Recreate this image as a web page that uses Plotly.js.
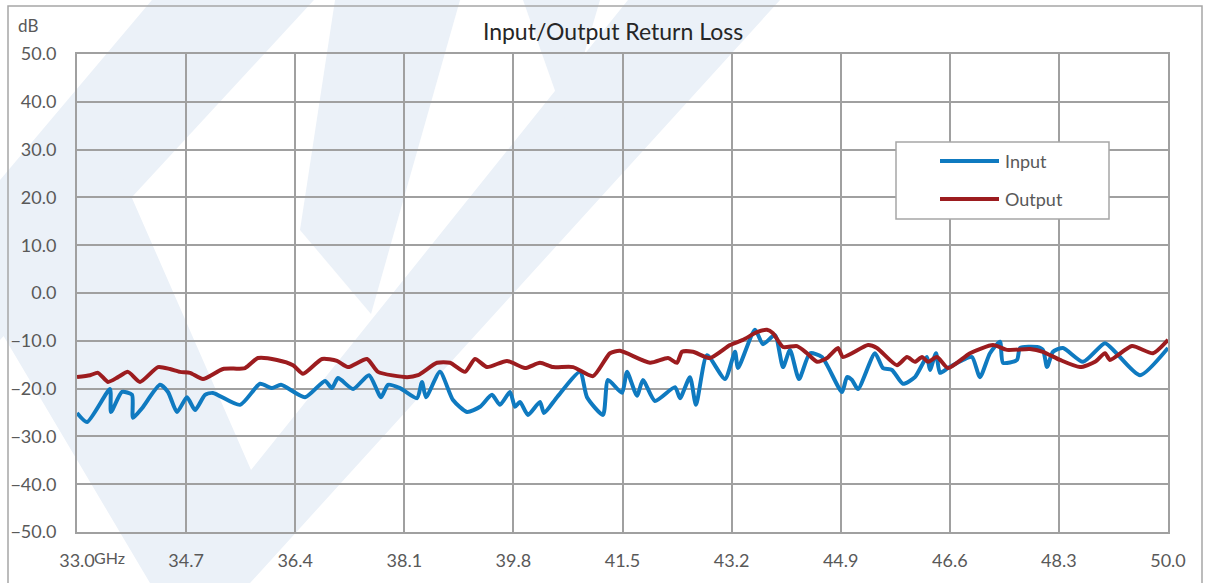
<!DOCTYPE html>
<html>
<head>
<meta charset="utf-8">
<script src="https://cdn.plot.ly/plotly-3.0.1.min.js"></script>
<style>html,body{margin:0;padding:0;background:#fff;}#chart{width:1211px;height:583px;}</style>
</head>
<body>
<div id="chart"></div>
<script>
// ---- data ----
const freqTickVals = [33.0, 34.7, 36.4, 38.1, 39.8, 41.5, 43.2, 44.9, 46.6, 48.3, 50.0];
const freqTickText = ["33.0", "34.7", "36.4", "38.1", "39.8", "41.5", "43.2", "44.9", "46.6", "48.3", "50.0"];

const inputFreq = [33.000, 33.156, 33.514, 33.530, 33.701, 33.857, 33.873, 34.013, 34.293, 34.418,
  34.558, 34.714, 34.839, 34.995, 35.119, 35.540, 35.852, 36.039, 36.179, 36.553,
  36.864, 36.973, 37.067, 37.301, 37.550, 37.737, 37.846, 38.033, 38.298, 38.376,
  38.438, 38.656, 38.859, 39.077, 39.280, 39.466, 39.591, 39.747, 39.825, 39.903,
  40.027, 40.214, 40.277, 40.479, 40.838, 40.947, 41.196, 41.274, 41.492, 41.570,
  41.726, 41.819, 42.006, 42.318, 42.396, 42.551, 42.645, 42.816, 43.097, 43.253,
  43.300, 43.565, 43.689, 43.876, 44.001, 44.110, 44.250, 44.421, 44.608, 44.920,
  44.998, 45.076, 45.169, 45.434, 45.559, 45.699, 45.870, 46.057, 46.244, 46.291,
  46.385, 46.447, 46.572, 46.806, 46.946, 47.070, 47.226, 47.382, 47.429, 47.647,
  47.694, 47.959, 48.052, 48.115, 48.208, 48.364, 48.676, 49.018, 49.174, 49.564, 50.000];
const inputDb = [-25.1, -27.0, -20.1, -24.9, -20.7, -21.3, -26.1, -24.1, -19.2, -20.7,
  -24.9, -21.8, -24.5, -21.3, -20.9, -23.4, -19.0, -19.9, -19.2, -21.8,
  -18.4, -19.9, -17.8, -20.1, -17.2, -21.8, -19.2, -19.9, -22.0, -18.6,
  -21.8, -16.5, -22.4, -24.9, -23.8, -21.3, -23.4, -20.7, -23.8, -22.8,
  -25.5, -22.8, -25.1, -21.8, -16.5, -21.8, -25.5, -18.2, -20.9, -16.5,
  -21.5, -18.2, -22.6, -19.7, -22.0, -17.6, -23.4, -13.0, -18.0, -12.3,
  -15.7, -7.7, -10.7, -8.8, -15.5, -11.9, -18.0, -12.6, -13.4, -20.7,
  -17.6, -18.2, -20.1, -12.6, -15.7, -16.1, -19.0, -17.6, -13.4, -16.1,
  -12.6, -16.7, -15.7, -14.0, -13.4, -17.6, -12.6, -10.2, -14.6, -14.0,
  -11.5, -11.3, -11.9, -15.5, -12.3, -11.5, -14.4, -10.5, -12.3, -17.2, -11.5];

const outputFreq = [33.000, 33.203, 33.327, 33.483, 33.639, 33.795, 33.982, 34.262, 34.449, 34.605,
  34.761, 34.963, 35.275, 35.618, 35.820, 36.116, 36.366, 36.522, 36.818, 37.051,
  37.223, 37.519, 37.690, 38.142, 38.313, 38.610, 38.812, 39.046, 39.202, 39.389,
  39.700, 39.981, 40.214, 40.417, 40.729, 41.040, 41.305, 41.461, 41.928, 42.209,
  42.349, 42.427, 42.598, 42.863, 43.175, 43.377, 43.596, 43.752, 43.845, 44.001,
  44.219, 44.375, 44.531, 44.687, 44.858, 44.936, 45.326, 45.465, 45.777, 45.933,
  46.057, 46.167, 46.260, 46.400, 46.572, 46.915, 47.273, 47.491, 47.850, 48.052,
  48.317, 48.629, 48.863, 49.018, 49.096, 49.439, 49.766, 50.000];
const outputDb = [-17.6, -17.2, -16.7, -18.6, -17.6, -16.5, -18.6, -15.5, -15.9, -16.5,
  -16.7, -18.0, -15.9, -15.7, -13.6, -14.0, -15.1, -16.9, -13.8, -14.2,
  -15.5, -13.8, -16.5, -17.6, -17.2, -14.6, -14.6, -16.5, -13.8, -15.5,
  -14.2, -15.7, -14.6, -15.5, -15.5, -17.4, -12.6, -12.1, -14.6, -13.6,
  -14.6, -12.3, -12.3, -13.6, -10.9, -9.8, -8.2, -7.7, -8.4, -11.3,
  -11.1, -12.6, -14.4, -13.6, -11.5, -13.4, -10.9, -11.5, -15.1, -13.4,
  -14.4, -13.4, -14.4, -13.4, -15.7, -12.6, -10.9, -11.9, -11.7, -12.3,
  -14.0, -15.5, -14.4, -12.6, -14.0, -11.1, -12.6, -9.8];

const seriesNames = ["Input", "Output"];
const seriesColors = ["#0F7AC0", "#9C1C1F"];

// ---- layout helpers (pixel -> paper, for decoration only) ----
const PL = 77, PR = 1168, PT = 54, PB = 532;
const px = v => (v - PL) / (PR - PL);
const py = v => (PB - v) / (PB - PT);
function poly(pts, color) {
  const d = pts.map((p, i) => (i ? 'L' : 'M') + px(p[0]).toFixed(4) + ',' + py(p[1]).toFixed(4)).join(' ') + ' Z';
  return {type: 'path', xref: 'paper', yref: 'paper', path: d, fillcolor: color, line: {width: 0}, layer: 'below'};
}
const wm = '#EBF1F8';
const shapes = [
  // faint background watermark
  poly([[152, 0], [314, 0], [0, 340], [0, 180]], wm),
  poly([[0, 200], [100, 125], [251, 470], [628, 0], [780, 0], [250, 583], [150, 583], [0, 330]], wm),
  poly([[335, 0], [460, 0], [371, 314], [300, 230]], wm),
  poly([[523, 0], [600, 0], [565, 119]], wm),
  // outer chart frame
  {type: 'rect', xref: 'paper', yref: 'paper', x0: px(8), x1: px(1202), y0: py(6), y1: py(600),
   line: {color: '#A6A6A6', width: 1.5}, fillcolor: 'rgba(0,0,0,0)', layer: 'above'},
  // legend box
  {type: 'rect', xref: 'paper', yref: 'paper', x0: px(896), x1: px(1109), y0: py(142), y1: py(219),
   line: {color: '#A6A6A6', width: 1.5}, fillcolor: '#FFFFFF', layer: 'above'},
  {type: 'line', xref: 'paper', yref: 'paper', x0: px(940), x1: px(999), y0: py(161), y1: py(161),
   line: {color: seriesColors[0], width: 4}, layer: 'above'},
  {type: 'line', xref: 'paper', yref: 'paper', x0: px(940), x1: px(999), y0: py(199), y1: py(199),
   line: {color: seriesColors[1], width: 4}, layer: 'above'}
];

const textColor = '#595959';
const fontFam = 'Lato, "Open Sans", sans-serif';

const annotations = [
  {xref: 'paper', yref: 'paper', x: px(1003), y: py(161), xanchor: 'left', yanchor: 'middle',
   text: seriesNames[0], showarrow: false, font: {family: fontFam, size: 18, color: textColor}},
  {xref: 'paper', yref: 'paper', x: px(1003), y: py(199), xanchor: 'left', yanchor: 'middle',
   text: seriesNames[1], showarrow: false, font: {family: fontFam, size: 18, color: textColor}},
  {xref: 'paper', yref: 'paper', x: px(16), y: py(26), xanchor: 'left', yanchor: 'middle',
   text: 'dB', showarrow: false, font: {family: fontFam, size: 17, color: textColor}},
  {xref: 'paper', yref: 'paper', x: px(92), y: py(557), xanchor: 'left', yanchor: 'middle',
   text: 'GHz', showarrow: false, font: {family: fontFam, size: 16, color: textColor}}
];

const traces = [
  {x: inputFreq, y: inputDb, name: seriesNames[0], type: 'scatter', mode: 'lines',
   line: {color: seriesColors[0], width: 4, shape: 'spline', smoothing: 0.6}},
  {x: outputFreq, y: outputDb, name: seriesNames[1], type: 'scatter', mode: 'lines',
   line: {color: seriesColors[1], width: 4, shape: 'spline', smoothing: 0.6}}
];

const layout = {
  width: 1211, height: 583,
  margin: {l: PL, r: 1211 - PR, t: PT, b: 583 - PB},
  paper_bgcolor: '#FFFFFF', plot_bgcolor: 'rgba(0,0,0,0)',
  showlegend: false,
  title: {text: 'Input/Output Return Loss', x: 613 / 1211, xanchor: 'center', xref: 'container',
          y: 1 - 32 / 583, yref: 'container', yanchor: 'middle',
          font: {family: fontFam, size: 23, color: '#262626'}},
  xaxis: {range: [33, 50], tickvals: freqTickVals, ticktext: freqTickText, showgrid: true,
          gridcolor: '#A0A0A0', gridwidth: 2, showline: true, mirror: true, linecolor: '#A0A0A0', linewidth: 2,
          zeroline: false, ticks: '', ticklabelstandoff: 11,
          tickfont: {family: fontFam, size: 18, color: textColor}, fixedrange: true},
  yaxis: {range: [-50, 50], dtick: 10, tick0: 0, tickformat: '.1f', showgrid: true,
          gridcolor: '#A0A0A0', gridwidth: 2, showline: true, mirror: true, linecolor: '#A0A0A0', linewidth: 2,
          zeroline: false, ticks: '', ticklabelstandoff: 15,
          tickfont: {family: fontFam, size: 18, color: textColor}, fixedrange: true},
  shapes: shapes,
  annotations: annotations
};

Plotly.newPlot('chart', traces, layout, {displayModeBar: false, staticPlot: true});
</script>
</body>
</html>
